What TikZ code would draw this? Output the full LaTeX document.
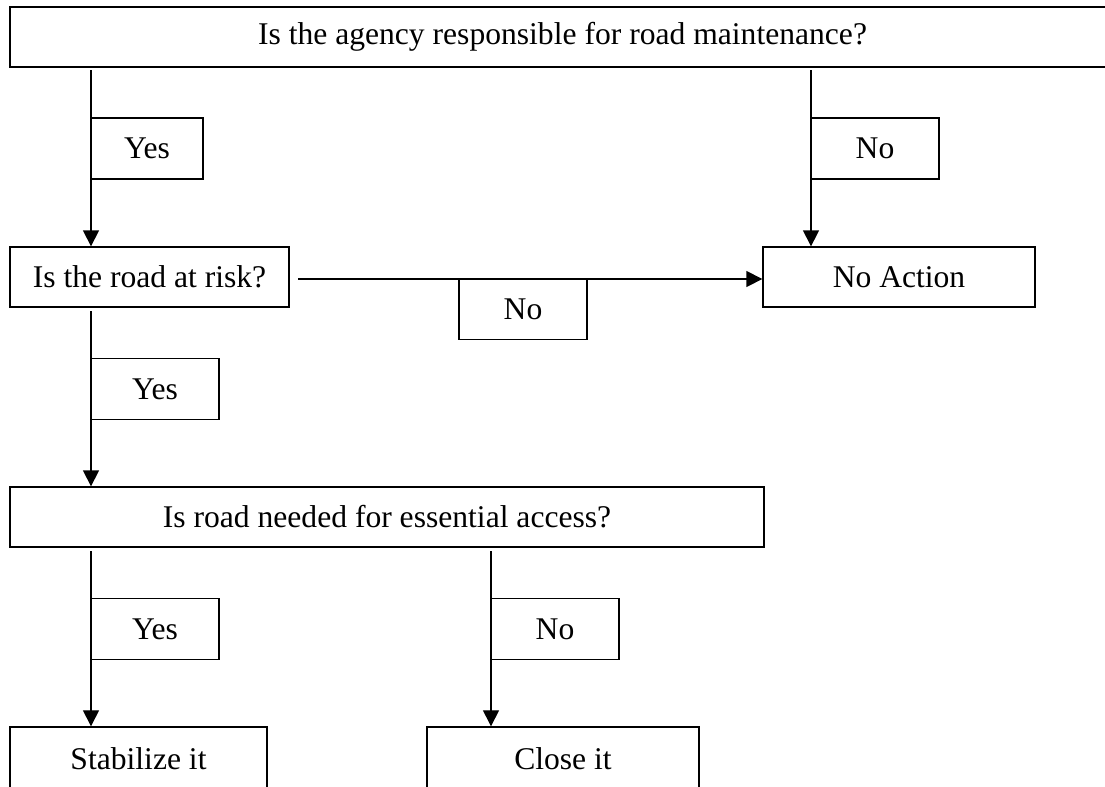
\documentclass[tikz,border=0pt]{standalone}
\usepackage{fontspec}
\setmainfont{Liberation Serif}
\usetikzlibrary{arrows.meta,calc}
\begin{document}
\begin{tikzpicture}[x=0.75pt,y=-0.75pt,
  box/.style={draw,line width=1pt,inner sep=0pt,minimum height=45pt,font=\fontsize{23.7}{28}\selectfont},
  lbl/.style={box,minimum height=45.75pt},
  endbox/.style={box,minimum height=47pt},
  conn/.style={line width=1pt,-{Triangle[length=12pt,width=12pt]}}]
\useasboundingbox (0,0) rectangle (1105,786);
\clip (0,0) rectangle (1105,786);
\node[box,minimum width=828.75pt] (top) at (562.5,37) {Is the agency responsible for road maintenance?};
\node[lbl,minimum width=84pt] (yes1) at (147,148.5) {Yes};
\node[lbl,minimum width=96pt] (no1) at (875,148.5) {No};
\node[box,minimum width=209.25pt] (risk) at (149.5,277) {Is the road at risk?};
\node[box,minimum width=204pt] (noact) at (899,277) {No Action};
\node[lbl,minimum width=96pt] (no2) at (523,309) {No};
\node[lbl,minimum width=96pt] (yes2) at (155,389) {Yes};
\node[box,minimum width=565.5pt] (need) at (387,517) {Is road needed for essential access?};
\node[lbl,minimum width=96pt] (yes3) at (155,629) {Yes};
\node[lbl,minimum width=96pt] (no3) at (555,629) {No};
\node[endbox,minimum width=192.75pt] (stab) at (138.5,758.3) {Stabilize it};
\node[endbox,minimum width=204pt] (close) at (563,758.3) {Close it};
\coordinate (s1) at (91,70);
\coordinate (s2) at (811,70);
\coordinate (s3) at (298,279);
\coordinate (s4) at (91,311);
\coordinate (s5) at (91,551);
\coordinate (s6) at (491,551);
\draw[conn] (s1) -- (s1 |- risk.north);
\draw[conn] (s2) -- (s2 |- noact.north);
\draw[conn] (s3) -- (s3 -| noact.west);
\draw[conn] (s4) -- (s4 |- need.north);
\draw[conn] (s5) -- (s5 |- stab.north);
\draw[conn] (s6) -- (s6 |- close.north);
\end{tikzpicture}
\end{document}
